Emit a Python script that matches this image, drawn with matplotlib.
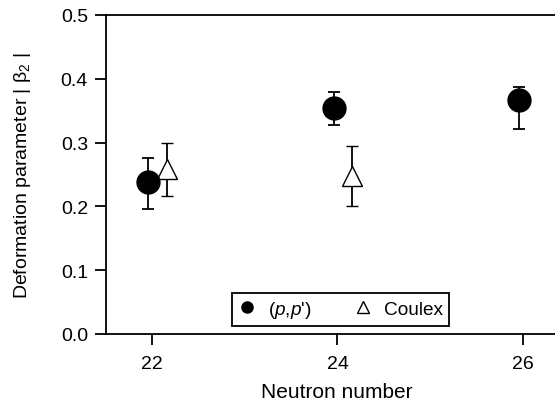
import matplotlib.pyplot as plt
from matplotlib.lines import Line2D

plt.rcParams['font.family'] = ['Liberation Sans', 'DejaVu Sans']
plt.rcParams['mathtext.fontset'] = 'custom'
plt.rcParams['mathtext.it'] = 'Liberation Sans:italic'
plt.rcParams['mathtext.rm'] = 'Liberation Sans'

# (p,p') data
pp_n = [21.95, 23.96, 25.96]
pp_beta = [0.239, 0.354, 0.366]
pp_err_lo = [0.043, 0.026, 0.045]
pp_err_hi = [0.037, 0.025, 0.021]

# Coulex data
cx_n = [22.16, 24.16]
cx_beta = [0.258, 0.248]
cx_err_lo = [0.041, 0.047]
cx_err_hi = [0.042, 0.047]

fig = plt.figure(figsize=(5.55, 4.02), dpi=100)
ax = fig.add_axes([0.191, 0.1667, 0.809, 0.7935])

ax.errorbar(cx_n, cx_beta, yerr=[cx_err_lo, cx_err_hi], fmt='^', ms=15,
            mfc='white', mec='black', mew=1.0, ecolor='black',
            elinewidth=1.3, capsize=4, capthick=1.3, zorder=2)
ax.errorbar(pp_n, pp_beta, yerr=[pp_err_lo, pp_err_hi], fmt='o', ms=16.5,
            mfc='black', mec='black', ecolor='black',
            elinewidth=1.3, capsize=4, capthick=1.3, zorder=3)

ax.set_xlim(21.5, 26.35)
ax.set_ylim(0, 0.5)
ax.set_xticks([22, 24, 26])
ax.set_yticks([0.0, 0.1, 0.2, 0.3, 0.4, 0.5])
ax.set_yticklabels(['0.0', '0.1', '0.2', '0.3', '0.4', '0.5'])
ax.spines['right'].set_visible(False)
for s in ['left', 'bottom', 'top']:
    ax.spines[s].set_linewidth(1.3)
ax.tick_params(direction='out', length=8, width=1.3, labelsize=14)
ax.tick_params(axis='x', pad=7)
ax.tick_params(axis='y', pad=5)

ax.set_xlabel('Neutron number', fontsize=15)
ax.xaxis.set_label_coords(0.514, -0.15)
ax.set_ylabel(r'Deformation parameter | $\mathrm{\beta}_2$ |', fontsize=14)
ax.yaxis.set_label_coords(-0.162, 0.5)

handles = [
    Line2D([], [], marker='o', ls='none', color='black', ms=8),
    Line2D([], [], marker='^', ls='none', mfc='white', mec='black', ms=8, mew=1.0),
]
leg = ax.legend(handles, [r"($\it{p}$,$\it{p}$')", 'Coulex'], ncol=2,
                loc='center', bbox_to_anchor=(0.522, 0.077), fontsize=13.7,
                frameon=True, fancybox=False, framealpha=1, edgecolor='black',
                handlelength=1.0, handletextpad=0.6, columnspacing=2.2,
                borderpad=0.3)
leg.get_frame().set_linewidth(1.3)

fig.savefig('out.png', dpi=100)
